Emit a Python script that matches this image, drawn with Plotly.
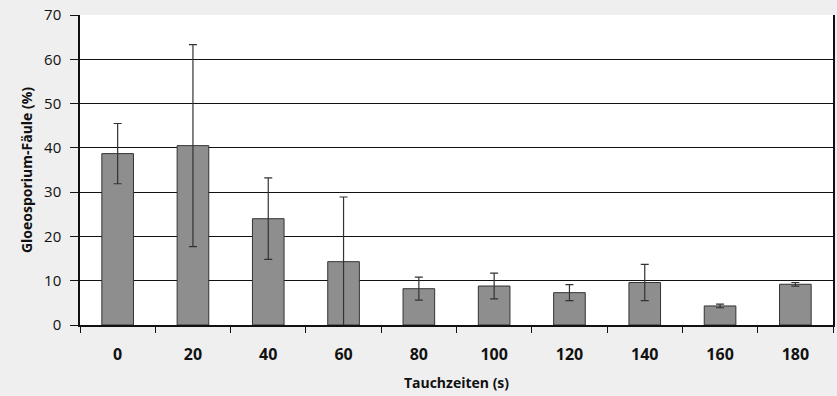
import plotly.graph_objects as go

categories = ["0", "20", "40", "60", "80", "100", "120", "140", "160", "180"]
values = [38.7, 40.5, 24.0, 14.3, 8.2, 8.8, 7.3, 9.6, 4.3, 9.2]
errors = [6.8, 22.8, 9.2, 14.6, 2.6, 2.9, 1.8, 4.1, 0.4, 0.4]

fig = go.Figure()
fig.add_trace(go.Bar(
    x=categories, y=values,
    width=0.42,
    marker=dict(color="#8e8e8e", line=dict(color="#333333", width=1)),
    error_y=dict(type="data", array=errors, visible=True,
                 color="#333333", thickness=1.2, width=4),
))

fig.update_layout(
    width=837, height=396,
    margin=dict(l=80, r=2, t=15, b=71),
    paper_bgcolor="#efefef",
    plot_bgcolor="#ffffff",
    showlegend=False,
    font=dict(family="Open Sans, DejaVu Sans, sans-serif", color="#111111"),
    xaxis=dict(
        type="category",
        showline=True, linecolor="#111111", linewidth=1.5,
        ticks="outside", tickson="boundaries", ticklen=6, tickcolor="#111111",
        tickfont=dict(size=16, family="Open Sans", weight="bold"),
        ticklabelstandoff=14,
        title=dict(text="<b>Tauchzeiten (s)</b>", font=dict(size=14), standoff=14),
        showgrid=False,
    ),
    yaxis=dict(
        range=[0, 70], dtick=10,
        showline=True, linecolor="#111111", linewidth=1.5, mirror=True,
        ticks="outside", ticklen=8, tickcolor="#111111",
        tickfont=dict(size=15),
        ticklabelstandoff=6,
        showgrid=True, gridcolor="#111111", gridwidth=1.3,
        title=dict(text="<b>Gloeosporium-Fäule (%)</b>", font=dict(size=14), standoff=8),
        zeroline=False,
    ),
)

fig.write_html("out.html", config={"displayModeBar": False},
               post_script="document.body.style.margin='0';")
